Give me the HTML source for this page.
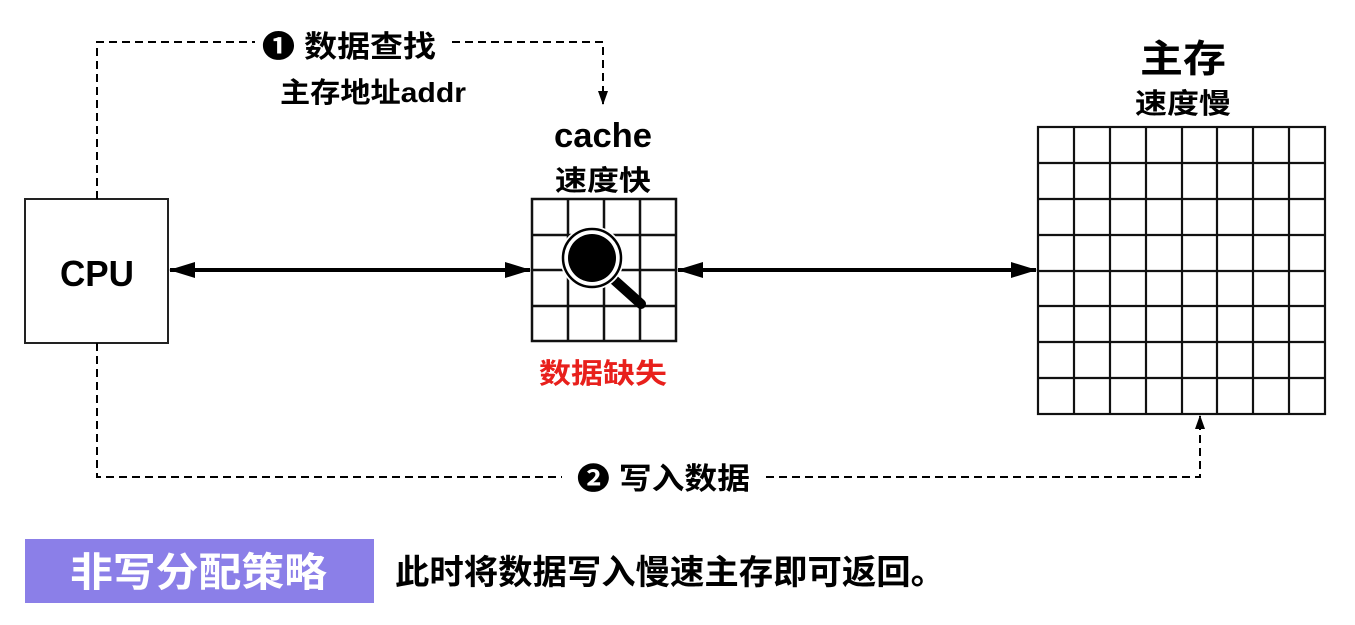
<!DOCTYPE html>
<html><head><meta charset="utf-8"><style>
html,body{margin:0;padding:0;background:#fff;}
svg{display:block;}
text{font-family:"Liberation Sans","Noto Sans CJK SC",sans-serif;font-weight:bold;}
</style></head><body>
<svg width="1355" height="625" viewBox="0 0 1355 625" xmlns="http://www.w3.org/2000/svg">
<defs>
<marker id="ah" markerWidth="14" markerHeight="10" refX="13" refY="5" orient="auto" markerUnits="userSpaceOnUse">
<path d="M0,0 L14,5 L0,10 z" fill="#000"/></marker>
<marker id="big" markerWidth="26" markerHeight="16" refX="25" refY="8" orient="auto" markerUnits="userSpaceOnUse">
<path d="M0,0 L26,8 L0,16 z" fill="#000"/></marker>
</defs>
<rect x="25" y="199" width="143" height="144" fill="#fff" stroke="#222" stroke-width="2"/>
<text x="97" y="286" font-size="36" text-anchor="middle" textLength="74" lengthAdjust="spacingAndGlyphs">CPU</text>
<path d="M97,199 V42 H255" fill="none" stroke="#000" stroke-width="2" stroke-dasharray="8,5"/>
<path d="M452,42 H603 V104" fill="none" stroke="#000" stroke-width="2" stroke-dasharray="8,5" marker-end="url(#ah)"/>
<text x="262" y="57" font-size="30" textLength="174" lengthAdjust="spacingAndGlyphs">❶ 数据查找</text>
<text x="280" y="102" font-size="28" textLength="186" lengthAdjust="spacingAndGlyphs">主存地址addr</text>
<path d="M97,343 V477 H562" fill="none" stroke="#000" stroke-width="2" stroke-dasharray="8,5"/>
<path d="M766,477 H1200 V416" fill="none" stroke="#000" stroke-width="2" stroke-dasharray="8,5" marker-end="url(#ah)"/>
<text x="577" y="489" font-size="30" textLength="173" lengthAdjust="spacingAndGlyphs">❷ 写入数据</text>
<line x1="195" y1="270" x2="530" y2="270" stroke="#000" stroke-width="4" marker-end="url(#big)"/>
<line x1="510" y1="270" x2="170" y2="270" stroke="#000" stroke-width="4" marker-end="url(#big)"/>
<line x1="700" y1="270" x2="1036" y2="270" stroke="#000" stroke-width="4" marker-end="url(#big)"/>
<line x1="1010" y1="270" x2="678" y2="270" stroke="#000" stroke-width="4" marker-end="url(#big)"/>
<text x="603" y="147" font-size="34" text-anchor="middle" textLength="98" lengthAdjust="spacingAndGlyphs">cache</text>
<text x="603" y="190" font-size="28" text-anchor="middle" textLength="96" lengthAdjust="spacingAndGlyphs">速度快</text>
<g stroke="#111" stroke-width="2.5" fill="none">
<rect x="532" y="199" width="144" height="142"/>
<line x1="568" y1="199" x2="568" y2="341"/><line x1="604" y1="199" x2="604" y2="341"/><line x1="640" y1="199" x2="640" y2="341"/>
<line x1="532" y1="235" x2="676" y2="235"/><line x1="532" y1="270" x2="676" y2="270"/><line x1="532" y1="306" x2="676" y2="306"/>
</g>
<line x1="612" y1="278" x2="641" y2="304" stroke="#000" stroke-width="10" stroke-linecap="round"/>
<circle cx="592" cy="258" r="32" fill="#fff"/>
<circle cx="592" cy="258" r="29" fill="none" stroke="#000" stroke-width="2.5"/>
<circle cx="592" cy="258" r="24" fill="#000"/>
<text x="603" y="383" font-size="28" text-anchor="middle" fill="#e8201c" textLength="128" lengthAdjust="spacingAndGlyphs">数据缺失</text>
<text x="1183" y="72" font-size="38" text-anchor="middle" textLength="86" lengthAdjust="spacingAndGlyphs">主存</text>
<text x="1183" y="113" font-size="28" text-anchor="middle" textLength="96" lengthAdjust="spacingAndGlyphs">速度慢</text>
<g stroke="#111" stroke-width="2.2" fill="none">
<rect x="1038" y="127" width="287" height="287"/>
<path d="M1074,127V414M1110,127V414M1146,127V414M1182,127V414M1217,127V414M1253,127V414M1289,127V414"/>
<path d="M1038,163H1325M1038,199H1325M1038,235H1325M1038,271H1325M1038,306H1325M1038,342H1325M1038,378H1325"/>
</g>
<rect x="25" y="539" width="349" height="64" fill="#8b7fe8"/>
<text x="70" y="586" font-size="40" fill="#fff" textLength="257" lengthAdjust="spacingAndGlyphs">非写分配策略</text>
<text x="395" y="584" font-size="34" fill="#000" textLength="550" lengthAdjust="spacingAndGlyphs">此时将数据写入慢速主存即可返回。</text>
</svg>
</body></html>
